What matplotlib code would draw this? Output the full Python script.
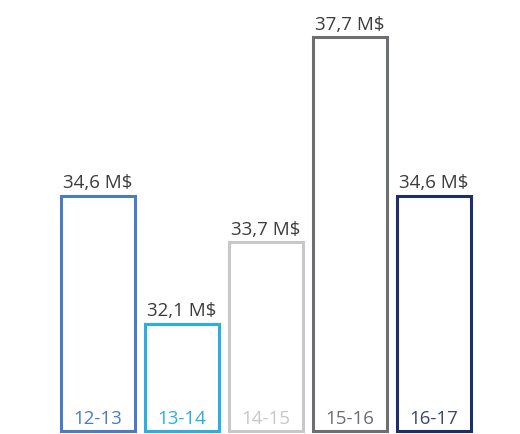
import matplotlib
matplotlib.use("Agg")
import matplotlib.pyplot as plt

years = ["12-13", "13-14", "14-15", "15-16", "16-17"]
values = [34.6, 32.1, 33.7, 37.7, 34.6]
edge_colors = ["#4a7cc4", "#29b0e3", "#c8c8c8", "#6d6e71", "#1c2f6b"]
label_colors = ["#4a7cc4", "#29b0e3", "#c8c8c8", "#6d6e71", "#3a4775"]
value_labels = ["34,6 M$", "32,1 M$", "33,7 M$", "37,7 M$", "34,6 M$"]

plt.rcParams["font.family"] = ["Open Sans", "DejaVu Sans"]

fig = plt.figure(figsize=(5.2, 4.35), dpi=100)
ax = fig.add_axes([0.1077, 3 / 435, 0.808, 1.0])
base = 30.0

x = range(len(years))
bars = ax.bar(x, [v - base for v in values], bottom=base, width=0.88,
              facecolor="white", edgecolor=edge_colors, linewidth=2.2)
for b in bars:
    b.set_clip_on(False)

for i, v in enumerate(values):
    ax.text(i, v + 0.08, value_labels[i], ha="center", va="bottom",
            fontsize=13.5, color="#3c3c3c")
    ax.text(i, base + 0.26, years[i], ha="center", va="center",
            fontsize=13.5, color=label_colors[i])

ax.set_xlim(-0.5, 4.5)
ax.set_ylim(base, 38.5)
ax.axis("off")

fig.savefig("out.png", dpi=100)
